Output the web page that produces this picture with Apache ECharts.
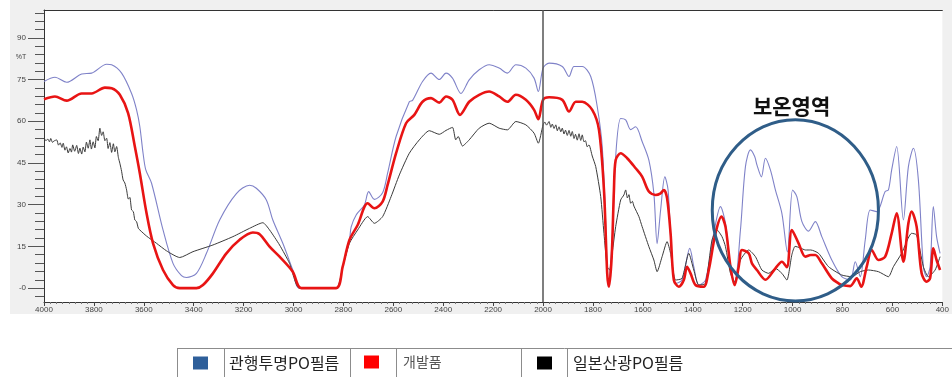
<!DOCTYPE html>
<html>
<head>
<meta charset="utf-8">
<script src="https://cdn.jsdelivr.net/npm/echarts@6/dist/echarts.min.js"></script>
<style>
html,body{margin:0;padding:0;background:#fff;}
#c{width:952px;height:377px;}
</style>
</head>
<body>
<div id="c"></div>
<script>
// ---- data (wavenumber cm-1, %T) ----
const seriesNames = ['관행투명PO필름', '개발품', '일본산광PO필름'];
const yMajorTicks = [0, 15, 30, 45, 60, 75, 90];
const yMinorTicks = [-3, 3, 6, 9, 12, 18, 21, 24, 27, 33, 36, 39, 42, 48, 51, 54, 57, 63, 66, 69, 72, 78, 81, 84, 87, 93, 96, 99];
const yAxisUnit = '%T';
const markerWave = 2000;
const annotationText = '보온영역';

const blueData = [
  [4000,74.3],[3956,75.8],[3909,74.0],[3849,77.0],[3809,77.3],[3749,80.5],[3729,80.3],[3689,77.3],
  [3649,70.0],[3629,64.1],[3616,58.1],[3603,48.5],[3592,42.5],[3569,37.7],[3523,20.9],[3483,8.9],
  [3449,4.5],[3429,3.8],[3389,5.3],[3349,12.5],[3296,24.5],[3229,34.0],[3176,37.0],[3149,35.9],
  [3109,31.7],[3083,24.5],[3043,16.1],[3003,6.5],[2976,0],[2829,0],[2803,7.7],[2776,17.3],
  [2769,22.0],[2749,26.3],[2716,29.9],[2699,34.7],[2676,31.9],[2643,34.3],[2623,41.3],[2589,54.5],
  [2536,67.0],[2523,67.5],[2483,74.3],[2449,77.3],[2416,75.0],[2389,77.3],[2363,75.5],[2329,70.0],
  [2296,74.9],[2256,78.5],[2216,80.3],[2176,79.1],[2143,77.3],[2109,80.3],[2069,79.1],[2036,75.5],
  [2019,70.7],[2000,79.1],[1976,80.9],[1923,79.7],[1896,76.1],[1876,79.7],[1843,79.7],[1809,76.1],
  [1783,65.3],[1763,50.9],[1749,23.3],[1739,0.5],[1723,17.3],[1709,47.3],[1689,61.0],[1669,60.5],
  [1649,57.0],[1629,58.0],[1603,52.7],[1576,46.0],[1556,34.0],[1543,16.0],[1529,28.0],[1512,40.0],
  [1499,35.3],[1485,12.5],[1469,1.7],[1443,2.9],[1412,14.3],[1396,7.7],[1376,1.1],[1349,2.9],
  [1316,19.7],[1289,29.3],[1269,23.3],[1249,7.7],[1232,1.7],[1209,20.9],[1189,43.7],[1169,49.7],
  [1152,47.3],[1143,44.3],[1125,40.0],[1109,46.7],[1089,42.5],[1069,35.3],[1043,26.9],[1021,13.0],
  [1000,35.3],[983,32.9],[963,24.0],[936,20.5],[909,23.9],[883,18.5],[843,10.1],[803,4.1],
  [769,2.9],[749,9.5],[729,4.1],[709,17.3],[689,28.1],[663,27.5],[629,34.7],[616,35.3],
  [603,42.5],[583,50.9],[556,24.5],[536,43.7],[516,50.3],[496,38.9],[476,7.7],[463,4.1],
  [449,7.7],[436,29.3],[423,18.5],[409,12.5]
];

const redData = [
  [4000,67.9],[3956,68.9],[3909,67.4],[3849,70.0],[3809,70.0],[3756,72.1],[3729,71.9],[3696,69.5],
  [3663,62.9],[3636,50.9],[3616,41.3],[3589,26.9],[3563,16.1],[3523,6.5],[3483,1.1],[3456,0],
  [3389,0],[3363,1.1],[3323,5.3],[3269,12.5],[3216,17.4],[3163,20.0],[3136,19.4],[3096,14.9],
  [3056,11.3],[3003,5.9],[2969,0],[2829,0],[2803,7.7],[2776,17.3],[2743,22.7],[2703,30.5],
  [2676,28.7],[2643,31.1],[2623,37.1],[2589,48.5],[2549,59.3],[2516,62.3],[2483,67.0],[2449,68.3],
  [2416,66.7],[2389,68.9],[2363,67.7],[2333,62.3],[2296,67.0],[2256,69.5],[2216,70.7],[2176,68.9],
  [2143,67.0],[2109,69.5],[2069,67.7],[2036,64.1],[2019,60.7],[2000,67.7],[1976,68.6],[1923,67.7],
  [1896,63.5],[1869,67.0],[1843,67.0],[1803,64.1],[1776,56.9],[1756,35.3],[1743,5.3],[1736,0.5],
  [1725,11.3],[1716,35.3],[1709,46.1],[1689,48.5],[1663,46.7],[1629,43.1],[1603,40.1],[1576,34.7],
  [1549,33.5],[1529,34.1],[1516,35.3],[1503,32.3],[1489,19.7],[1476,2.9],[1456,0.5],[1436,2.9],
  [1423,7.7],[1409,5.3],[1389,1.1],[1356,0.5],[1336,6.5],[1309,19.7],[1285,25.7],[1269,22.1],
  [1249,7.7],[1232,1.1],[1216,7.7],[1203,13.7],[1176,12.5],[1163,8.9],[1143,6.5],[1109,3.0],
  [1069,7.1],[1043,9.5],[1023,7.5],[1003,20.9],[976,16.1],[949,11.3],[927,11.9],[909,11.9],
  [883,8.9],[843,3.5],[816,1.7],[803,1.1],[769,0.7],[743,3.5],[725,0.5],[703,7.7],
  [683,13.7],[656,10.1],[629,11.3],[603,19.7],[583,26.9],[556,9.5],[536,23.3],[523,27.5],
  [503,22.1],[483,5.3],[463,2.3],[449,3.5],[436,14.3],[423,10.1],[409,6.5]
];

const blackData = [
  [4000,53.9],[3992,53.0],[3985,53.6],[3978,52.6],[3973,53.8],[3966,52.4],[3960,52.9],[3949,53.3],
  [3942,51.4],[3935,52.2],[3928,50.6],[3923,52.1],[3916,49.6],[3910,50.8],[3903,48.6],[3896,50.2],
  [3890,48.9],[3885,51.5],[3877,49.2],[3869,51.3],[3862,48.4],[3856,50.3],[3849,48.2],[3843,50.7],
  [3836,49.0],[3830,52.5],[3823,50.3],[3816,53.3],[3810,50.0],[3803,52.6],[3796,50.4],[3790,54.5],
  [3783,53.0],[3776,57.5],[3769,54.9],[3763,56.2],[3756,53.0],[3749,53.9],[3743,50.2],[3736,52.3],
  [3729,48.8],[3722,51.9],[3716,49.0],[3709,50.9],[3702,47.0],[3696,44.9],[3689,42.0],[3683,38.9],
  [3676,37.8],[3669,35.3],[3662,32.0],[3656,32.6],[3649,28.1],[3642,27.5],[3636,24.5],[3629,23.9],
  [3622,21.5],[3616,20.9],[3589,18.7],[3549,16.1],[3509,13.4],[3456,11.0],[3403,13.1],[3323,15.5],
  [3243,18.5],[3176,21.5],[3123,23.5],[3096,20.9],[3056,15.5],[3016,8.9],[2976,0],[2829,0],
  [2803,7.7],[2776,16.1],[2743,20.9],[2703,25.7],[2676,23.3],[2643,25.7],[2609,32.9],[2576,40.7],
  [2536,48.5],[2496,53.3],[2456,56.6],[2416,55.3],[2389,56.7],[2363,57.8],[2350,53.3],[2340,54.5],
  [2323,51.1],[2296,53.3],[2256,57.5],[2216,59.3],[2176,57.5],[2143,56.9],[2109,59.9],[2069,58.7],
  [2036,55.7],[2019,52.1],[2000,58.7],[1993,59.7],[1986,58.6],[1976,59.9],[1969,57.8],[1963,59.0],
  [1956,57.4],[1949,58.7],[1943,56.6],[1936,58.0],[1929,56.2],[1923,57.5],[1916,55.4],[1910,56.8],
  [1903,54.9],[1896,56.7],[1889,54.6],[1883,56.3],[1876,53.8],[1870,55.3],[1863,53.2],[1856,55.5],
  [1849,53.1],[1843,55.1],[1836,52.6],[1830,53.0],[1823,50.8],[1816,51.5],[1803,47.5],[1789,43.7],
  [1769,32.9],[1756,19.7],[1743,7.7],[1733,6.5],[1723,12.5],[1709,22.1],[1689,31.7],[1676,33.5],
  [1669,35.3],[1662,32.4],[1656,33.6],[1649,30.5],[1642,31.2],[1636,29.5],[1616,25.7],[1603,22.1],
  [1576,14.9],[1556,10.1],[1543,5.9],[1523,11.3],[1503,16.7],[1489,12.5],[1469,2.9],[1443,3.5],
  [1416,12.5],[1396,6.5],[1376,1.1],[1349,1.7],[1323,17.3],[1303,20.9],[1283,18.5],[1269,14.9],
  [1249,5.3],[1232,2.3],[1209,10.1],[1176,13.7],[1149,11.3],[1123,6.5],[1096,5.3],[1069,7.1],
  [1043,5.3],[1023,2.9],[1003,12.0],[990,15.0],[970,14.5],[949,13.7],[927,13.7],[896,12.5],
  [856,7.7],[803,4.7],[763,4.1],[729,5.9],[696,6.5],[656,5.9],[616,4.1],[596,7.7],
  [563,12.5],[523,19.7],[503,19.1],[476,7.7],[456,4.1],[429,6.5],[409,11.3]
];

// annotation ellipse bounds in data units
const annoWaveLeft = 1322, annoWaveRight = 656, annoTop = 60.5, annoBottom = -4.6;
const annoTextWave = 1004, annoTextT = 65.3;

const chart = echarts.init(document.getElementById('c'), null, {renderer: 'canvas'});

const legendCommon = {
  orient: 'horizontal', padding: 0, itemWidth: 15, itemHeight: 13, icon: 'rect',
  selectedMode: true,
  itemStyle: {borderWidth: 0}
};

const option = {
  animation: false,
  backgroundColor: '#ffffff',
  grid: {left: 44, right: 9, top: 10, bottom: 75, show: true, backgroundColor: '#ffffff', borderWidth: 0},
  xAxis: [
    {
      type: 'value', inverse: true, min: 400, max: 4000, interval: 200,
      axisLine: {show: true, onZero: false, lineStyle: {color: '#333', width: 1}},
      axisTick: {show: true, length: 4, lineStyle: {color: '#444'}},
      minorTick: {show: true, splitNumber: 8, length: 2, lineStyle: {color: '#777'}},
      axisLabel: {fontSize: 8, color: '#444', margin: 4, fontFamily: 'Liberation Sans', formatter: v => String(v)},
      splitLine: {show: false}
    },
    {
      type: 'value', position: 'top', inverse: true, min: 400, max: 4000,
      axisLine: {show: true, onZero: false, lineStyle: {color: '#333', width: 1}},
      axisTick: {show: false}, axisLabel: {show: false}, splitLine: {show: false}
    }
  ],
  yAxis: [
    {
      type: 'value', min: -5, max: 100,
      axisLine: {show: true, onZero: false, lineStyle: {color: '#333', width: 1}},
      axisTick: {show: true, length: 16, customValues: yMajorTicks, lineStyle: {color: '#555'}},
      axisLabel: {customValues: yMajorTicks, fontSize: 8, color: '#444', margin: 18, fontFamily: 'Liberation Sans',
        formatter: v => (v === 0 ? '-0' : String(v))},
      splitLine: {show: false}
    },
    {
      type: 'value', min: -5, max: 100, position: 'left',
      axisLine: {show: false},
      axisTick: {show: true, length: 9, customValues: yMinorTicks, lineStyle: {color: '#555'}},
      axisLabel: {show: false}, splitLine: {show: false}
    }
  ],
  legend: [
    Object.assign({}, legendCommon, {left: 193, top: 355,
      data: [{name: seriesNames[0], itemStyle: {color: '#2E5F9A', borderWidth: 0}}],
      textStyle: {fontFamily: 'Noto Sans CJK KR', fontSize: 16, color: '#222', padding: [0, 0, 0, 16]}}),
    Object.assign({}, legendCommon, {left: 364, top: 355,
      data: [{name: seriesNames[1], itemStyle: {color: '#FF0000', borderWidth: 0}}],
      textStyle: {fontFamily: 'Noto Sans CJK KR', fontSize: 14, color: '#555', padding: [0, 0, 0, 19]}}),
    Object.assign({}, legendCommon, {left: 537, top: 355,
      data: [{name: seriesNames[2], itemStyle: {color: '#000000', borderWidth: 0}}],
      textStyle: {fontFamily: 'Noto Sans CJK KR', fontSize: 16, color: '#222', padding: [0, 0, 0, 16]}})
  ],
  series: [
    {
      name: seriesNames[0], type: 'line', data: blueData, xAxisIndex: 0, yAxisIndex: 0,
      showSymbol: false, smooth: 0.3, lineStyle: {color: '#7F82C8', width: 1.1}, itemStyle: {color: '#7F82C8'}, z: 2
    },
    {
      name: seriesNames[2], type: 'line', data: blackData, xAxisIndex: 0, yAxisIndex: 0,
      showSymbol: false, smooth: 0.2, lineStyle: {color: '#3A3A3A', width: 1}, itemStyle: {color: '#3A3A3A'}, z: 3,
      markLine: {
        silent: true, symbol: 'none', label: {show: false},
        lineStyle: {color: '#555', width: 1.5, type: 'solid'},
        data: [{xAxis: markerWave}]
      }
    },
    {
      name: seriesNames[1], type: 'line', data: redData, xAxisIndex: 0, yAxisIndex: 0,
      showSymbol: false, smooth: 0.3, lineStyle: {color: '#E81414', width: 2.6}, itemStyle: {color: '#E81414'}, z: 4
    }
  ],
  graphic: [
    {id: 'bg', type: 'rect', z: -100, silent: true, shape: {x: 10, y: 0, width: 942, height: 314}, style: {fill: '#F0F0F0'}},
    {id: 'unit', type: 'text', silent: true, x: 21, y: 57, style: {text: yAxisUnit, fontSize: 7, fill: '#444', align: 'center', verticalAlign: 'middle', fontFamily: 'Liberation Sans'}},
    {id: 'tTop', type: 'line', silent: true, shape: {x1: 177, y1: 348.5, x2: 952, y2: 348.5}, style: {stroke: '#8C8C8C', lineWidth: 1}},
    {id: 'tV1', type: 'line', silent: true, shape: {x1: 177.5, y1: 348, x2: 177.5, y2: 377}, style: {stroke: '#8C8C8C', lineWidth: 1}},
    {id: 'tV2', type: 'line', silent: true, shape: {x1: 224.5, y1: 348, x2: 224.5, y2: 377}, style: {stroke: '#8C8C8C', lineWidth: 1}},
    {id: 'tV3', type: 'line', silent: true, shape: {x1: 350.5, y1: 348, x2: 350.5, y2: 377}, style: {stroke: '#8C8C8C', lineWidth: 1}},
    {id: 'tV4', type: 'line', silent: true, shape: {x1: 396.5, y1: 348, x2: 396.5, y2: 377}, style: {stroke: '#8C8C8C', lineWidth: 1}},
    {id: 'tV5', type: 'line', silent: true, shape: {x1: 521.5, y1: 348, x2: 521.5, y2: 377}, style: {stroke: '#8C8C8C', lineWidth: 1}},
    {id: 'tV6', type: 'line', silent: true, shape: {x1: 567.5, y1: 348, x2: 567.5, y2: 377}, style: {stroke: '#8C8C8C', lineWidth: 1}}
  ]
};

chart.setOption(option);

const toPx = (w, t) => chart.convertToPixel({xAxisIndex: 0, yAxisIndex: 0}, [w, t]);
const pTL = toPx(annoWaveLeft, annoTop);
const pBR = toPx(annoWaveRight, annoBottom);
const pText = toPx(annoTextWave, annoTextT);

chart.setOption({
  graphic: [
    {id: 'ellipse', type: 'ellipse', silent: true, z: 50,
      shape: {cx: (pTL[0] + pBR[0]) / 2, cy: (pTL[1] + pBR[1]) / 2, rx: Math.abs(pBR[0] - pTL[0]) / 2, ry: Math.abs(pBR[1] - pTL[1]) / 2},
      style: {fill: 'none', stroke: '#2F5D88', lineWidth: 3}},
    {id: 'annoText', type: 'text', silent: true, z: 50, x: pText[0], y: pText[1],
      style: {text: annotationText, fontSize: 21, fontWeight: 'bold', fill: '#111', align: 'center', verticalAlign: 'middle', fontFamily: 'Noto Sans CJK KR'}}
  ]
});
</script>
</body>
</html>
